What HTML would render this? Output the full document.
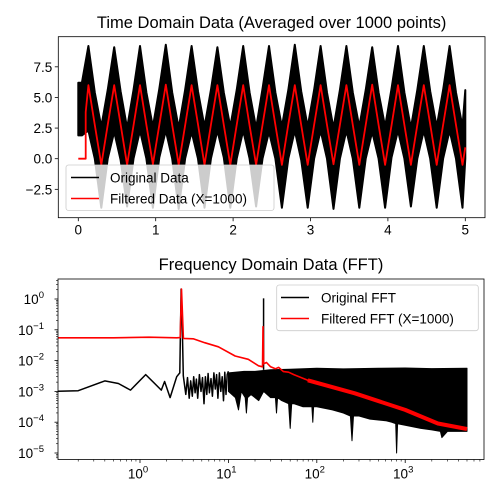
<!DOCTYPE html>
<html><head><meta charset="utf-8"><style>
body{margin:0;background:#fff}
svg{display:block;font-family:"Liberation Sans","DejaVu Sans",sans-serif}
</style></head><body>
<svg id="c" width="500" height="500" viewBox="0 0 500 500"></svg>
<script>
// ---- top chart data (time domain) ----
const xTicksTop = [0,1,2,3,4,5];
const yTicksTop = [7.5,5.0,2.5,0.0,-2.5];
const yTickLabelsTop = ["7.5","5.0","2.5","0.0","\u22122.5"];
const filtZeroEnd = 0.095;
const filtJumpValue = 3.8;
const sampleStart = 0.13;
const sampleStep = 1/12;
const filtered = [6.0,2.75,-0.5,2.75, 6.0,2.8,-0.5,2.7, 6.0,2.75,-0.45,2.75, 6.05,2.75,-0.5,2.7, 6.0,2.8,-0.5,2.75,
 6.0,2.75,-0.5,2.75, 6.0,2.7,-0.5,2.75, 6.0,2.75,-0.5,2.8, 6.0,2.75,-0.5,2.75, 6.0,2.75,-0.45,2.75,
 6.0,2.75,-0.5,2.75, 6.05,2.75,-0.5,2.7, 6.0,2.75,-0.5,2.75, 6.0,2.8,-0.5,2.75, 6.0,2.75,-0.5,2.75];
const origStart = [6.2,1.9];
const origUpper = [9.2,5.4,2.6,5.6, 9.1,5.5,2.5,5.6, 9.2,5.4,2.6,5.7, 9.3,5.4,2.5,5.6, 9.2,5.5,2.6,5.6,
 9.1,5.4,2.6,5.6, 9.2,5.4,2.5,5.7, 9.2,5.4,2.6,5.6, 9.3,5.5,2.6,5.6, 9.2,5.4,2.5,5.6,
 9.2,5.4,2.6,5.6, 9.1,5.4,2.6,5.7, 9.2,5.4,2.5,5.6, 9.2,5.5,2.6,5.6, 9.2,5.4,2.6,5.6];
const origLower = [2.3,0.0,-4.0,0.0, 2.2,-0.1,-3.9,0.0, 2.3,0.0,-4.0,0.1, 2.3,0.0,-4.1,0.0, 2.2,0.0,-4.0,0.0,
 2.3,0.1,-4.0,0.0, 2.3,0.0,-3.9,0.0, 2.2,0.0,-4.0,0.0, 2.3,-0.1,-4.0,0.0, 2.3,0.0,-4.1,0.0,
 2.3,0.0,-4.0,0.0, 2.2,0.0,-4.0,0.1, 2.3,0.0,-3.9,0.0, 2.3,0.0,-4.0,0.0, 2.3,0.0,-4.0,0.0];

// ---- bottom chart data (FFT) ----
const xDecades = [0,1,2,3];
const yDecades = [0,-1,-2,-3,-4,-5];
const fftLowF = [0.1,0.2,0.4,0.57,0.78,1.16,1.74,1.9,2.19,2.6,2.82,2.92,2.98,3.09,3.3,3.45,3.6,3.75,3.9,4.05,4.2,4.35,4.5,4.7,4.9,5.1,5.3,5.5,5.7,5.9,6.1,6.35,6.6,6.85,7.1,7.35,7.6,7.9,8.2,8.5,8.8,9.1,9.4,9.7,10];
const fftLowA = [1e-3,1.05e-3,2.2e-3,1.8e-3,1.1e-3,3.5e-3,1.1e-3,2.1e-3,6.3e-4,3.0e-3,4e-3,2.1,0.5,3.2e-3,8e-4,2.8e-3,6e-4,2.2e-3,7e-4,3e-3,9e-4,2.5e-3,6e-4,3.5e-3,1e-3,2.8e-3,4e-4,3e-3,8e-4,3.8e-3,9e-4,2.6e-3,7e-4,4e-3,1.2e-3,3.5e-3,6e-4,4e-3,1e-3,3e-3,5e-4,4.2e-3,8e-4,3.5e-3,4.5e-3];
const bandF = [10,12,13,14,15.5,16,16.5,18,22,25,30,34,35,36,40,48,50,52,55,70,88,90,92,100,150,200,240,250,260,300,400,600,700,780,800,820,1000,1500,2000,2500,2600,3000,4000,5000];
const bandLoLog = [-3.0,-3.2,-3.6,-3.0,-3.2,-3.7,-3.2,-3.1,-3.3,-3.0,-3.2,-3.2,-3.7,-3.2,-3.3,-3.4,-4.2,-3.4,-3.4,-3.5,-3.5,-4.0,-3.5,-3.5,-3.6,-3.7,-3.8,-4.6,-3.8,-3.8,-3.9,-3.95,-4.0,-4.05,-5.0,-4.05,-4.1,-4.2,-4.25,-4.3,-4.5,-4.3,-4.3,-4.3];
const bandHiF = [10,15,20,30,50,100,200,500,1000,2000,5000];
const bandHiLog = [-2.4,-2.35,-2.35,-2.3,-2.28,-2.25,-2.27,-2.25,-2.24,-2.26,-2.25];
const peak2F = 25, peak2A = 1.05;
const fftFiltF = [0.1,0.5,1.26,2.6,2.85,2.95,3.1,4,5.4,7.7,11.9,16.8,21.9,24.3,24.6,25,27,30,34,37,42,48,55,79,269,1000,2344,5000];
const fftFiltA = [0.055,0.055,0.0575,0.055,0.056,2.09,0.0525,0.051,0.038,0.028,0.0141,0.011,0.0068,0.0063,0.126,0.0079,0.0087,0.0063,0.0054,0.006,0.0044,0.0042,0.0035,0.0023,8.7e-4,2.5e-4,9.1e-5,6.0e-5];

const svg = document.getElementById('c');
const NS = 'http://www.w3.org/2000/svg';
function mk(tag, attrs, parent){const e=document.createElementNS(NS,tag);for(const k in attrs)e.setAttribute(k,attrs[k]);(parent||svg).appendChild(e);return e;}

const T = {l:58.3,r:485,t:36.7,b:217.7};
const tx = t => 78.3 + t*77.4;
const ty = v => 158.7 - v*12.25;
const B = {l:58,r:484,t:279,b:459.5};
const bx = f => 140 + Math.log10(f)*88.4;
const byl = lg => 299 - lg*30.8;
const by = a => byl(Math.log10(a));

const defs = mk('defs',{});
const c1 = mk('clipPath',{id:'clipTop'},defs); mk('rect',{x:T.l,y:T.t,width:T.r-T.l,height:T.b-T.t},c1);
const c2 = mk('clipPath',{id:'clipBot'},defs); mk('rect',{x:B.l,y:B.t,width:B.r-B.l,height:B.b-B.t},c2);

// ===== TOP =====
const gTop = mk('g',{'clip-path':'url(#clipTop)'});


let up=[], lo=[];
up.push([tx(0),ty(origStart[0])]); lo.push([tx(0),ty(origStart[1])]);
up.push([tx(sampleStart-sampleStep),ty(origStart[0])]); lo.push([tx(sampleStart-sampleStep),ty(origStart[1])]);
for(let i=0;i<origUpper.length;i++){const t=Math.min(5,sampleStart+i*sampleStep);up.push([tx(t),ty(origUpper[i])]);lo.push([tx(t),ty(origLower[i])]);if(t>=5)break;}
const bandPts = up.concat(lo.reverse()).map(p=>p[0].toFixed(1)+','+p[1].toFixed(1)).join(' ');
const origPoly = mk('polygon',{points:bandPts,fill:'#000',stroke:'#000','stroke-width':'2','stroke-linejoin':'round'},gTop);


let fp=[[tx(0),ty(0)],[tx(filtZeroEnd),ty(0)],[tx(filtZeroEnd),ty(filtJumpValue)]];
for(let i=0;i<filtered.length;i++){let t=sampleStart+i*sampleStep;if(t>5){const t0=t-sampleStep;const v0=filtered[i-1];const fr=(5-t0)/sampleStep;fp.push([tx(5),ty(v0+(filtered[i]-v0)*fr)]);break;}fp.push([tx(t),ty(filtered[i])]);}
const filtLine = mk('polyline',{points:fp.map(p=>p[0].toFixed(1)+','+p[1].toFixed(1)).join(' '),fill:'none',stroke:'#ff0000','stroke-width':'1.8','stroke-linejoin':'round'},gTop);



const fr1 = mk('rect',{x:T.l,y:T.t,width:T.r-T.l,height:T.b-T.t,fill:'none',stroke:'#000','stroke-width':'0.8'});


xTicksTop.forEach(v=>{
  mk('line',{x1:tx(v),x2:tx(v),y1:T.b,y2:T.b+3.5,stroke:'#000','stroke-width':'0.8'});
  const t=mk('text',{x:tx(v),y:T.b+17,'font-size':'13.5','text-anchor':'middle'});t.textContent=v;
  
  
});
yTicksTop.forEach((v,i)=>{
  mk('line',{x1:T.l-3.5,x2:T.l,y1:ty(v),y2:ty(v),stroke:'#000','stroke-width':'0.8'});
  const t=mk('text',{x:T.l-6,y:ty(v)+5,'font-size':'13.5','text-anchor':'end'});t.textContent=yTickLabelsTop[i];
  
  
});
const tt1 = mk('text',{x:(T.l+T.r)/2,y:28,'font-size':'16.5','text-anchor':'middle'}); tt1.textContent='Time Domain Data (Averaged over 1000 points)';


const lg1 = mk('g',{});


mk('rect',{x:66,y:165,width:208,height:45.5,rx:2.5,fill:'#fff','fill-opacity':'0.8',stroke:'#ccc','stroke-width':'0.8'},lg1);
mk('line',{x1:71,x2:99,y1:177.5,y2:177.5,stroke:'#000','stroke-width':'1.5'},lg1);
mk('line',{x1:71,x2:99,y1:198.5,y2:198.5,stroke:'#f00','stroke-width':'1.5'},lg1);
let e=mk('text',{x:110,y:182.5,'font-size':'13.5'},lg1);e.textContent='Original Data';


e=mk('text',{x:110,y:203.5,'font-size':'13.5'},lg1);e.textContent='Filtered Data (X=1000)';



// ===== BOTTOM =====
const gBot = mk('g',{'clip-path':'url(#clipBot)'});


const lowPts = fftLowF.map((f,i)=>bx(f).toFixed(1)+','+by(fftLowA[i]).toFixed(1));
lowPts.unshift((B.l-5)+','+by(fftLowA[0]).toFixed(1));
const lowLine = mk('polyline',{points:lowPts.join(' '),fill:'none',stroke:'#000','stroke-width':'1.5','stroke-linejoin':'round'},gBot);


const hiP = bandHiF.map((f,i)=>[bx(f),byl(bandHiLog[i])]);
const loP = bandF.map((f,i)=>[bx(f),byl(bandLoLog[i])]).reverse();
const band = mk('polygon',{points:hiP.concat(loP).map(p=>p[0].toFixed(1)+','+p[1].toFixed(1)).join(' '),fill:'#000',stroke:'#000','stroke-width':'1','stroke-linejoin':'round'},gBot);


const pk = mk('line',{x1:bx(peak2F),x2:bx(peak2F),y1:byl(-2.3),y2:by(peak2A),stroke:'#000','stroke-width':'1.5'},gBot);


const ffPts = fftFiltF.map((f,i)=>bx(f).toFixed(1)+','+by(fftFiltA[i]).toFixed(1));
ffPts.unshift((B.l-5)+','+by(fftFiltA[0]).toFixed(1));
const ffLine = mk('polyline',{points:ffPts.join(' '),fill:'none',stroke:'#f00','stroke-width':'1.6','stroke-linejoin':'round'},gBot);


const thick = fftFiltF.map((f,i)=>[f,fftFiltA[i]]).filter(p=>p[0]>=60).map(p=>bx(p[0]).toFixed(1)+','+by(p[1]).toFixed(1));
const ffThick = mk('polyline',{points:thick.join(' '),fill:'none',stroke:'#f00','stroke-width':'4','stroke-linejoin':'round'},gBot);



const fr2 = mk('rect',{x:B.l,y:B.t,width:B.r-B.l,height:B.b-B.t,fill:'none',stroke:'#000','stroke-width':'0.8'});


for(let d=-1;d<=3;d++){for(let m=1;m<=9;m++){const x=bx(m*Math.pow(10,d));if(x<B.l||x>B.r)continue;
  mk('line',{x1:x,x2:x,y1:B.b,y2:B.b+(m===1?3.5:2),stroke:'#000','stroke-width':m===1?'0.8':'0.6'});}}
xDecades.forEach(d=>{
  const t=mk('text',{x:bx(Math.pow(10,d))-2,y:B.b+19,'font-size':'13.5','text-anchor':'middle'});
  
  
  t.textContent='10';const s=mk('tspan',{dy:'-6','font-size':'9.5'},t);s.textContent=d;
});
for(let d=-6;d<=0;d++){for(let m=1;m<=9;m++){const y=by(m*Math.pow(10,d));if(y<B.t||y>B.b)continue;
  mk('line',{x1:B.l-(m===1?3.5:2),x2:B.l,y1:y,y2:y,stroke:'#000','stroke-width':m===1?'0.8':'0.6'});}}
yDecades.forEach(d=>{
  const t=mk('text',{x:B.l-14,y:byl(d)+5,'font-size':'13.5','text-anchor':'end'});
  
  
  t.textContent='10';const s=mk('tspan',{dy:'-6','font-size':'9.5'},t);s.textContent=d===0?'0':'\u2212'+(-d);
});
const tt2 = mk('text',{x:(B.l+B.r)/2,y:270,'font-size':'16.5','text-anchor':'middle'}); tt2.textContent='Frequency Domain Data (FFT)';


const lg2 = mk('g',{});


mk('rect',{x:276.7,y:285,width:201.6,height:45.7,rx:2.5,fill:'#fff','fill-opacity':'0.8',stroke:'#ccc','stroke-width':'0.8'},lg2);
mk('line',{x1:281,x2:309,y1:297.5,y2:297.5,stroke:'#000','stroke-width':'1.5'},lg2);
mk('line',{x1:281,x2:309,y1:318.5,y2:318.5,stroke:'#f00','stroke-width':'1.5'},lg2);
e=mk('text',{x:321,y:302.5,'font-size':'13.5'},lg2);e.textContent='Original FFT';


e=mk('text',{x:321,y:323.5,'font-size':'13.5'},lg2);e.textContent='Filtered FFT (X=1000)';


</script>
</body></html>
